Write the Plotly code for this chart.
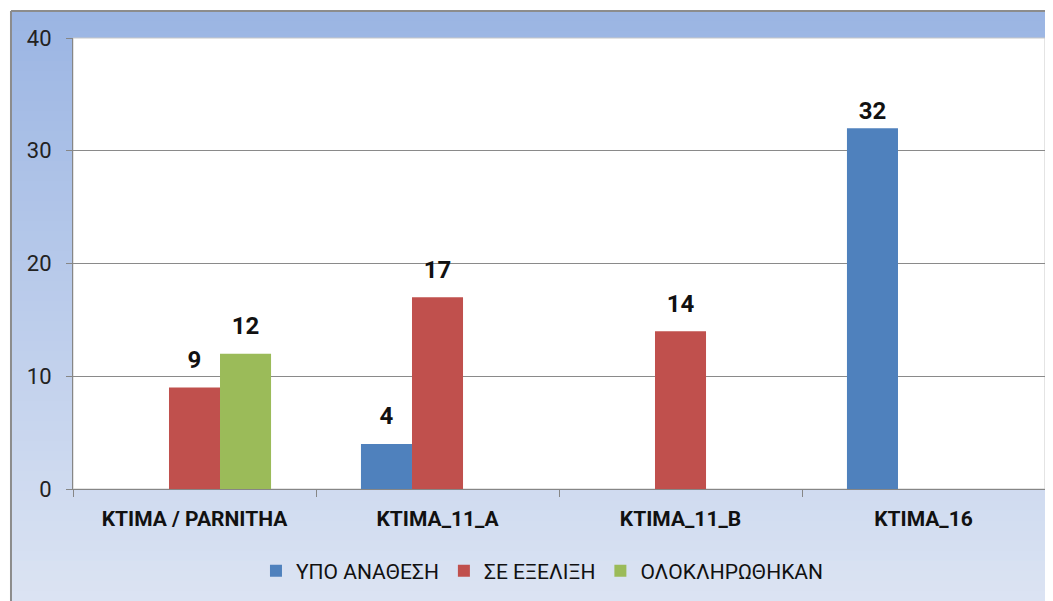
import plotly.graph_objects as go

categories = ["ΚΤΙΜΑ / PARNITHA", "ΚΤΙΜΑ_11_Α", "ΚΤΙΜΑ_11_Β", "ΚΤΙΜΑ_16"]
series_names = ["ΥΠΟ ΑΝΑΘΕΣΗ", "ΣΕ ΕΞΕΛΙΞΗ", "ΟΛΟΚΛΗΡΩΘΗΚΑΝ"]
ypo_anathesi = [None, 4, None, 32]
se_exelixi = [9, 17, 14, None]
oloklirothikan = [12, None, None, None]
y_ticks = [0, 10, 20, 30, 40]

colors = ["#4F81BD", "#C0504D", "#9BBB59"]
FONT = "Roboto"
BARGAP = 0.37

fig = go.Figure()
all_series = [ypo_anathesi, se_exelixi, oloklirothikan]
for i, (name, vals) in enumerate(zip(series_names, all_series)):
    fig.add_trace(go.Bar(
        x=categories, y=vals, name=name,
        marker=dict(color=colors[i], line=dict(width=0)),
        offsetgroup=str(i), alignmentgroup="a",
        hoverinfo="skip",
    ))
for i, vals in enumerate(all_series):
    # label gap above bar (invisible marker size); the tallest bar's label sits closer
    gap = [4 if (v is not None and v >= 30) else 20 for v in vals]
    fig.add_trace(go.Scatter(
        x=categories, y=vals, mode="markers+text",
        text=[("<b>%d</b>" % v) if v is not None else "" for v in vals],
        textposition="top center",
        textfont=dict(family=FONT, size=24, color="#111111"),
        marker=dict(size=gap, opacity=0),
        offsetgroup=str(i), alignmentgroup="a",
        showlegend=False, hoverinfo="skip", cliponaxis=False,
    ))

# gradient background (chart area) built from horizontal strips
shapes = []
top_rgb = (155, 181, 227)
bot_rgb = (220, 228, 243)
x0p, x1p = -0.0638, 1.02
y_top, y_bot = 1.0599, -0.27
N = 60
for k in range(N):
    t = k / (N - 1)
    c = tuple(int(round(a + (b - a) * t)) for a, b in zip(top_rgb, bot_rgb))
    ya = y_top + (y_bot - y_top) * k / N
    yb = y_top + (y_bot - y_top) * (k + 1) / N
    shapes.append(dict(type="rect", xref="paper", yref="paper", x0=x0p, x1=x1p,
                       y0=yb - 0.002, y1=ya, fillcolor="rgb(%d,%d,%d)" % c,
                       line=dict(width=0), layer="below"))
# outer border
shapes.append(dict(type="line", xref="paper", yref="paper", x0=x0p, x1=x0p,
                   y0=y_bot, y1=y_top, line=dict(color="#8C8C8C", width=2), layer="below"))
shapes.append(dict(type="line", xref="paper", yref="paper", x0=x0p, x1=x1p,
                   y0=y_top, y1=y_top, line=dict(color="#8C8C8C", width=2), layer="below"))
# plot area
shapes.append(dict(type="rect", xref="paper", yref="paper", x0=0, x1=1, y0=0, y1=1,
                   fillcolor="white", line=dict(color="#C8C8C8", width=1), layer="below"))

fig.update_layout(
    width=1045, height=593,
    margin=dict(l=65, r=8, t=30, b=112),
    paper_bgcolor="white", plot_bgcolor="white",
    barmode="group", bargap=BARGAP, bargroupgap=0,
    scattermode="group", scattergap=BARGAP,
    font=dict(family=FONT, color="#1A1A1A"),
    shapes=shapes,
    showlegend=True,
    legend=dict(orientation="h", x=0.483, y=-0.182, xanchor="center", yanchor="middle",
                font=dict(family=FONT, size=21, color="#111111"),
                bgcolor="rgba(0,0,0,0)", itemsizing="constant", traceorder="normal"),
    xaxis=dict(
        type="category", showline=True, linecolor="#868686", linewidth=1,
        ticks="outside", tickson="boundaries", ticklen=7, tickcolor="#868686",
        tickfont=dict(family=FONT, size=21, color="#111111", weight="bold"),
        ticklabelstandoff=11, showgrid=False,
    ),
    yaxis=dict(
        range=[0, 40], tickvals=y_ticks, showline=True, linecolor="#868686", linewidth=1,
        ticks="outside", ticklen=6, tickcolor="#868686",
        tickfont=dict(family=FONT, size=22, color="#222222"),
        ticklabelstandoff=10, showgrid=True, gridcolor="#8A8A8A", gridwidth=1,
        zeroline=False,
    ),
)

fig.write_html("out.html")
